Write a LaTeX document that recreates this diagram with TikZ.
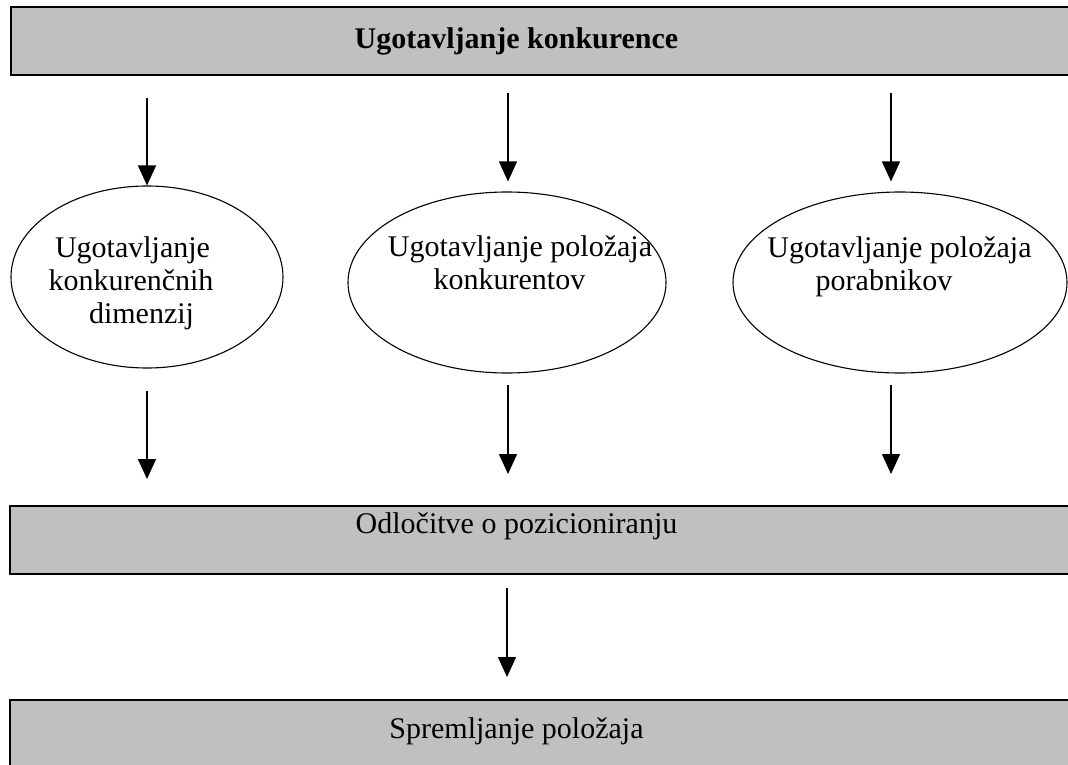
\documentclass[tikz,border=0pt]{standalone}
\usepackage{fontspec}
\setmainfont{Liberation Serif}
\usetikzlibrary{arrows.meta,shapes.geometric}
\definecolor{barfill}{RGB}{192,192,192}
\tikzset{
  bar/.style={draw=black, line width=2pt, fill=barfill, rectangle, inner sep=0pt},
  oval/.style={draw=black, line width=1.1pt, ellipse, inner sep=0pt},
  txt/.style={anchor=base, inner sep=0pt, font=\fontsize{30}{33}\selectfont},
  arr/.style={draw=black, line width=1.5pt, -{Triangle[length=20pt,width=18pt]}}
}
\begin{document}
\begin{tikzpicture}[x=1pt, y=-1pt]
\useasboundingbox (0,0) rectangle (1068,765);
\clip (0,0) rectangle (1068,765);
\fill[white] (0,0) rectangle (1068,765);

% horizontal bars
\node[bar, minimum width=1069pt, minimum height=68pt] (topbar) at (545.5,41) {};
\node[bar, minimum width=1070pt, minimum height=68pt] (midbar) at (545,540) {};
\node[bar, minimum width=1070pt, minimum height=100pt] (botbar) at (545,750) {};

\node[txt, font=\fontsize{30}{33}\selectfont\bfseries] (toptxt) at (516.5,49) {Ugotavljanje konkurence};
\node[txt] (midtxt) at (516.5,533) {Odločitve o pozicioniranju};
\node[txt] (bottxt) at (516.5,738) {Spremljanje položaja};

% three ovals
\node[oval, minimum width=272pt, minimum height=182pt] (e1) at (147,277) {};
\node[oval, minimum width=318pt, minimum height=181pt] (e2) at (507,282.5) {};
\node[oval, minimum width=334pt, minimum height=181pt] (e3) at (900,282.5) {};

\node[txt] (e1a) at (132.5,257) {Ugotavljanje};
\node[txt] (e1b) at (131,290) {konkurenčnih};
\node[txt] (e1c) at (141.5,323) {dimenzij};
\node[txt] (e2a) at (520,256) {Ugotavljanje položaja};
\node[txt] (e2b) at (509.5,289) {konkurentov};
\node[txt] (e3a) at (899.5,257) {Ugotavljanje položaja};
\node[txt] (e3b) at (884,290) {porabnikov};

% arrow columns
\coordinate (c1) at (147,0);
\coordinate (c2) at (508,0);
\coordinate (c3) at (891,0);
\coordinate (c4) at (507,0);

% from the top bar to the ovals
\draw[arr, shorten <=22pt] (topbar.south -| c1) -- (e1.north);
\draw[arr, shorten <=17pt, shorten >=10pt] (topbar.south -| c2) -- (e2.north -| c2);
\draw[arr, shorten <=17pt, shorten >=10pt] (topbar.south -| c3) -- (e3.north -| c3);

% from the ovals to the decision bar
\draw[arr, shorten <=22pt, shorten >=26pt] (e1.south) -- (midbar.north -| c1);
\draw[arr, shorten <=11pt, shorten >=31pt] (e2.south -| c2) -- (midbar.north -| c2);
\draw[arr, shorten <=11pt, shorten >=31pt] (e3.south -| c3) -- (midbar.north -| c3);

% from the decision bar to monitoring
\draw[arr, shorten <=13pt, shorten >=22pt] (midbar.south -| c4) -- (botbar.north -| c4);
\end{tikzpicture}
\end{document}
